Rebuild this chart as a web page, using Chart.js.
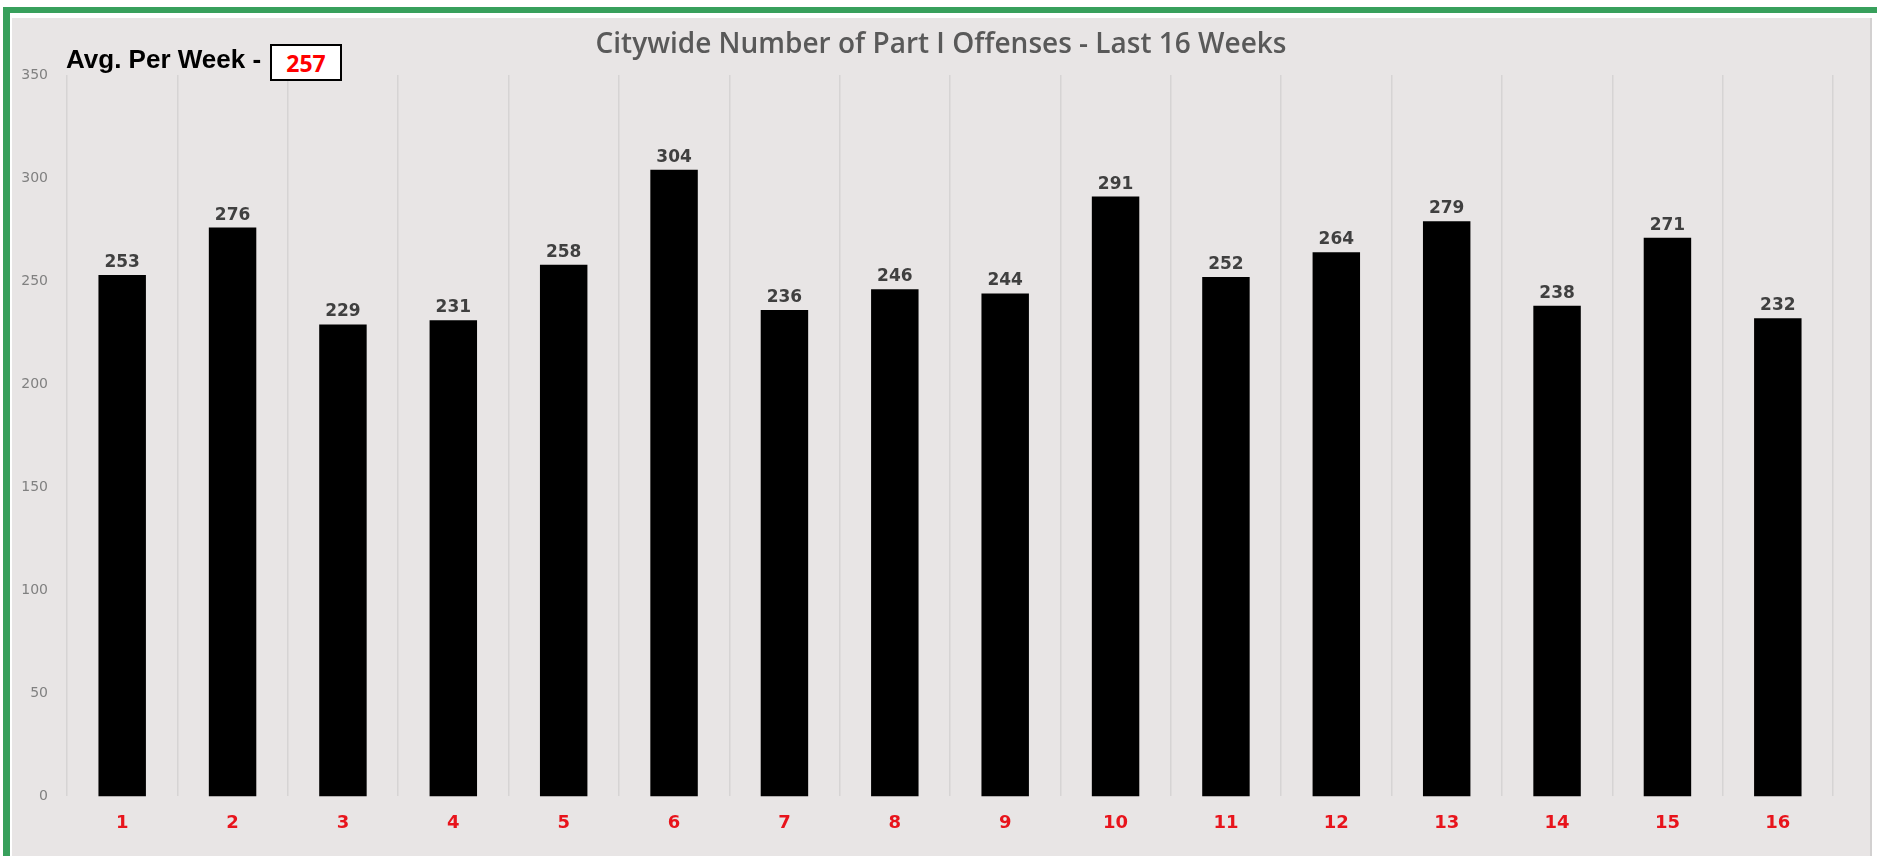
<!DOCTYPE html>
<html>
<head>
<meta charset="utf-8">
<title>Citywide Number of Part I Offenses - Last 16 Weeks</title>
<script src="https://cdn.jsdelivr.net/npm/chart.js@4/dist/chart.umd.min.js"></script>
<style>
  html, body { margin: 0; padding: 0; background: #fff; }
  #frame { position: relative; width: 1877px; height: 856px; overflow: hidden; }
  #greenTop { position: absolute; left: 3px; top: 7px; width: 1874px; height: 6px; background: #38a05c; }
  #greenLeft { position: absolute; left: 3px; top: 7px; width: 7px; height: 849px; background: #38a05c; }
  #panel { position: absolute; left: 12px; top: 18px; width: 1858px; height: 838px; background: #e8e5e5; border-right: 2px solid #d2d0d0; }
  #grafico { position: absolute; left: 0; top: 0; }
  #avg { position: absolute; left: 54px; top: 26px; font: bold 26px "Liberation Sans", Arial, sans-serif; color: #000; white-space: nowrap; }
  #avgBox { position: absolute; left: 258px; top: 26px; width: 68px; height: 33px; border: 2.5px solid #000; background: #fff;
            font: bold 23px "Open Sans", sans-serif; color: #ff0000; text-align: center; line-height: 34px; }
</style>
</head>
<body>
<div id="frame">
  <div id="greenTop"></div>
  <div id="greenLeft"></div>
  <div id="panel">
    <canvas id="grafico" width="1858" height="838"></canvas>
    <div id="avg">Avg. Per Week -</div>
    <div id="avgBox">257</div>
  </div>
</div>
<script>
// semanas y delitos (Part I) por semana
const semanas = ['1', '2', '3', '4', '5', '6', '7', '8', '9', '10', '11', '12', '13', '14', '15', '16'];
const delitos = [253, 276, 229, 231, 258, 304, 236, 246, 244, 291, 252, 264, 279, 238, 271, 232];
const ejeY = [0, 50, 100, 150, 200, 250, 300, 350];
const titulo = 'Citywide Number of Part I Offenses - Last 16 Weeks';

// título centrado sobre todo el panel (no sobre el área de barras)
const tituloCentrado = {
  id: 'tituloCentrado',
  afterDraw(chart) {
    const ctx = chart.ctx;
    ctx.save();
    ctx.font = '600 28px "Open Sans", sans-serif';
    ctx.fillStyle = '#595959';
    ctx.textAlign = 'center';
    ctx.textBaseline = 'middle';
    ctx.fillText(titulo, chart.width / 2, 27);
    ctx.restore();
  }
};

// etiquetas encima de cada barra
const etiquetasBarras = {
  id: 'etiquetasBarras',
  afterDatasetsDraw(chart) {
    const ctx = chart.ctx;
    const meta = chart.getDatasetMeta(0);
    ctx.save();
    ctx.font = 'bold 17px "DejaVu Sans", sans-serif';
    ctx.fillStyle = '#404040';
    ctx.textAlign = 'center';
    ctx.textBaseline = 'alphabetic';
    meta.data.forEach((bar, i) => {
      ctx.fillText(String(delitos[i]), bar.x, bar.y - 8);
    });
    ctx.restore();
  }
};

const ctx = document.getElementById('grafico').getContext('2d');
new Chart(ctx, {
  type: 'bar',
  data: {
    labels: semanas,
    datasets: [{
      label: 'Part I Offenses',
      data: delitos,
      backgroundColor: '#000000',
      borderWidth: 0,
      barPercentage: 0.43,
      categoryPercentage: 1.0,
    }],
  },
  options: {
    responsive: false,
    animation: false,
    layout: { padding: { left: 0, right: 37, top: 57, bottom: 6 } },
    plugins: {
      legend: { display: false },
      tooltip: { enabled: false },
      title: { display: false },
    },
    scales: {
      x: {
        grid: { display: true, color: '#d6d4d4', lineWidth: 1.5, drawTicks: false, offset: true },
        border: { display: false },
        ticks: {
          color: '#e8141c',
          padding: 16,
          font: { family: '"DejaVu Sans", sans-serif', size: 18, weight: 'bold' },
        },
      },
      y: {
        min: ejeY[0],
        max: ejeY[ejeY.length - 1],
        afterBuildTicks: (axis) => { axis.ticks = ejeY.map(v => ({ value: v })); },
        afterFit: (axis) => { axis.width = 55; },
        grid: { display: false, drawTicks: false },
        border: { display: false },
        ticks: {
          color: '#808080',
          padding: 19,
          font: { family: '"DejaVu Sans", sans-serif', size: 14 },
        },
      },
    },
  },
  plugins: [etiquetasBarras, tituloCentrado],
});
</script>
</body>
</html>
